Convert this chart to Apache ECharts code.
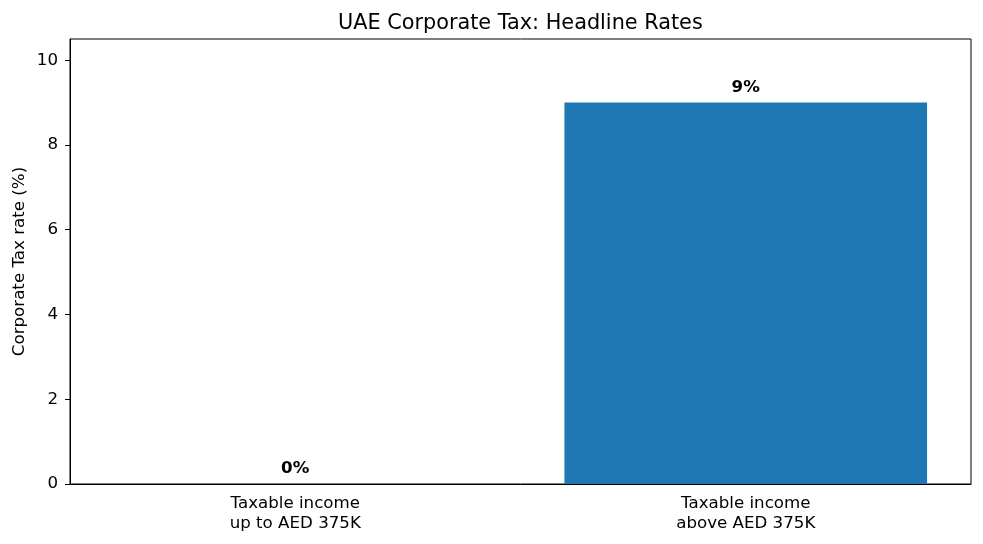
<!DOCTYPE html>
<html>
<head>
<meta charset="utf-8">
<script src="https://cdn.jsdelivr.net/npm/echarts@6/dist/echarts.min.js"></script>
<style>html,body{margin:0;padding:0;background:#fff}#c{width:983px;height:544px}</style>
</head>
<body>
<div id="c"></div>
<script>
const categories = ["Taxable income\nup to AED 375K", "Taxable income\nabove AED 375K"];
const rates = [0, 9];
const barLabels = ["0%", "9%"];
const yTicks = [0, 2, 4, 6, 8, 10];

const chart = echarts.init(document.getElementById('c'), null, {renderer: 'canvas'});
const font = 'DejaVu Sans';
const fs = 16.67;
chart.setOption({
  animation: false,
  backgroundColor: '#fff',
  textStyle: {fontFamily: font},
  title: {
    text: 'UAE Corporate Tax: Headline Rates',
    left: 333, top: 8,
    textStyle: {fontFamily: font, fontSize: 20.8, fontWeight: 'normal', color: '#000'}
  },
  grid: {left: 70, right: 12, top: 39, bottom: 60, show: true, borderColor: '#000', borderWidth: 1, backgroundColor: 'transparent'},
  xAxis: {
    type: 'category',
    data: categories,
    boundaryGap: true,
    axisLine: {lineStyle: {color: '#000', width: 1}},
    axisTick: {alignWithLabel: true, length: 5, lineStyle: {color: '#000'}},
    axisLabel: {color: '#000', fontSize: fs, fontFamily: font, margin: 10, lineHeight: 19.5},
    splitLine: {show: false}
  },
  yAxis: {
    type: 'value',
    min: 0, max: 10.5, interval: 2,
    name: 'Corporate Tax rate (%)',
    nameLocation: 'middle',
    nameGap: 42,
    nameMoveOverlap: false,
    nameTextStyle: {color: '#000', fontSize: fs, fontFamily: font},
    axisLine: {show: true, lineStyle: {color: '#000', width: 1}},
    axisTick: {show: true, length: 5, lineStyle: {color: '#000'}, customValues: yTicks},
    axisLabel: {color: '#000', fontSize: fs, fontFamily: font, margin: 12, customValues: yTicks},
    splitLine: {show: false}
  },
  series: [{
    type: 'bar',
    data: rates,
    barWidth: '80.5%',
    itemStyle: {color: '#1f77b4'},
    label: {
      show: true, position: 'top', distance: 6.5,
      formatter: p => barLabels[p.dataIndex],
      color: '#000', fontWeight: 'bold', fontSize: fs, fontFamily: font
    }
  }]
});
</script>
</body>
</html>
